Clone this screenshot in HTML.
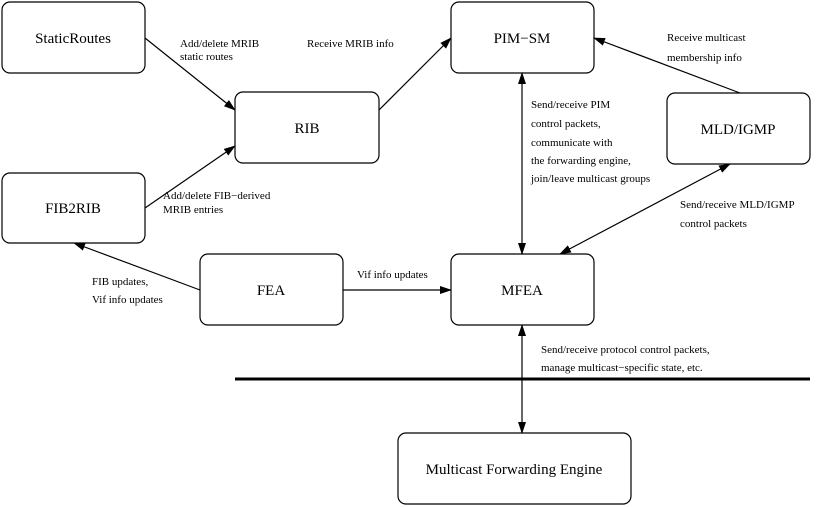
<!DOCTYPE html>
<html><head><meta charset="utf-8"><style>
html,body{margin:0;padding:0;background:#fff}
svg{display:block}
text{font-family:"Liberation Serif",serif;fill:#000}
.b{font-size:15px;text-anchor:middle}
.l{font-size:11px}
</style></head><body>
<svg width="822" height="507" viewBox="0 0 822 507">
<defs>
<marker id="a" markerWidth="12" markerHeight="8" refX="11" refY="4" orient="auto-start-reverse" markerUnits="userSpaceOnUse">
<path d="M0,0 L12,4 L0,8 Z" fill="#000"/></marker>
</defs>
<g fill="none" stroke="#000" stroke-width="1.2">
<rect x="2" y="2" width="143" height="71" rx="8"/>
<rect x="235" y="92" width="144" height="71" rx="8"/>
<rect x="451" y="2" width="143" height="71" rx="8"/>
<rect x="667" y="93" width="143" height="71" rx="8"/>
<rect x="2" y="173" width="143" height="70" rx="8"/>
<rect x="200" y="254" width="143" height="71" rx="8"/>
<rect x="451" y="254" width="143" height="71" rx="8"/>
<rect x="398" y="433" width="233" height="71" rx="8"/>
<line x1="145" y1="38" x2="235" y2="110" marker-end="url(#a)"/>
<line x1="145" y1="208" x2="235" y2="146" marker-end="url(#a)"/>
<line x1="379" y1="110" x2="451" y2="38" marker-end="url(#a)"/>
<line x1="740" y1="93" x2="594" y2="38" marker-end="url(#a)"/>
<line x1="522" y1="73" x2="522" y2="254" marker-start="url(#a)" marker-end="url(#a)"/>
<line x1="730" y1="164" x2="560" y2="254" marker-start="url(#a)" marker-end="url(#a)"/>
<line x1="200" y1="290" x2="74" y2="243" marker-end="url(#a)"/>
<line x1="343" y1="290" x2="451" y2="290" marker-end="url(#a)"/>
<line x1="522" y1="325" x2="522" y2="433" marker-start="url(#a)" marker-end="url(#a)"/>
</g>
<line x1="235" y1="379" x2="810" y2="379" stroke="#000" stroke-width="3"/>
<text class="b" x="73" y="43">StaticRoutes</text>
<text class="b" x="307" y="133">RIB</text>
<text class="b" x="522" y="43">PIM−SM</text>
<text class="b" x="738" y="134">MLD/IGMP</text>
<text class="b" x="73" y="213">FIB2RIB</text>
<text class="b" x="271" y="295">FEA</text>
<text class="b" x="522" y="295">MFEA</text>
<text class="b" x="514" y="474">Multicast Forwarding Engine</text>
<text class="l" x="180" y="47">Add/delete MRIB</text>
<text class="l" x="180" y="60">static routes</text>
<text class="l" x="307" y="47">Receive MRIB info</text>
<text class="l" x="667" y="41">Receive multicast</text>
<text class="l" x="667" y="61">membership info</text>
<text class="l" x="531" y="108">Send/receive PIM</text>
<text class="l" x="531" y="127">control packets,</text>
<text class="l" x="531" y="146">communicate with</text>
<text class="l" x="531" y="164">the forwarding engine,</text>
<text class="l" x="531" y="182">join/leave multicast groups</text>
<text class="l" x="680" y="208">Send/receive MLD/IGMP</text>
<text class="l" x="680" y="227">control packets</text>
<text class="l" x="163" y="199">Add/delete FIB−derived</text>
<text class="l" x="163" y="213">MRIB entries</text>
<text class="l" x="92" y="285">FIB updates,</text>
<text class="l" x="92" y="303">Vif info updates</text>
<text class="l" x="357" y="278">Vif info updates</text>
<text class="l" x="541" y="353">Send/receive protocol control packets,</text>
<text class="l" x="541" y="371">manage multicast−specific state, etc.</text>
</svg>
</body></html>
